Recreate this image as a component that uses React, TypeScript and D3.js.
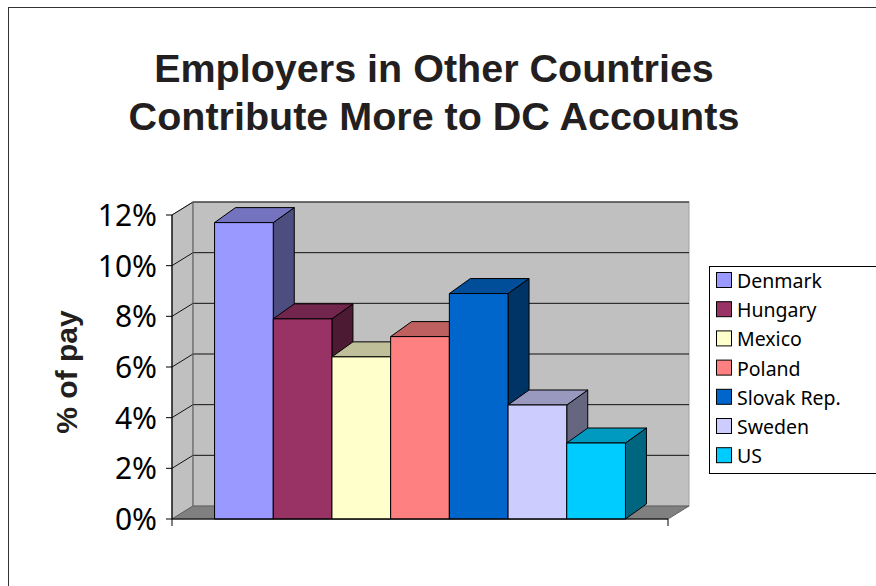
import React from "react";
import * as d3 from "d3";

const categories = ["Denmark", "Hungary", "Mexico", "Poland", "Slovak Rep.", "Sweden", "US"];
const values = [11.7, 7.9, 6.4, 7.2, 8.9, 4.5, 3.0];
const colors = ["#9999FF", "#993366", "#FFFFCC", "#FF8080", "#0066CC", "#CCCCFF", "#00CCFF"];
const yTicks = [0, 2, 4, 6, 8, 10, 12];
const titleLines = ["Employers in Other Countries", "Contribute More to DC Accounts"];
const yLabel = "% of pay";

const W = 876;
const H = 586;

function shade(c: string, k: number) {
  const r = d3.rgb(c);
  return d3.rgb(r.r * k, r.g * k, r.b * k).formatHex();
}

export default function App() {
  const x0 = 172, x1 = 668, yBase = 519, yTop = 215;
  const wdx = 21, wdy = 13; // wall depth
  const bdx = 21, bdy = 15; // bar depth
  const y = d3.scaleLinear().domain([0, 12]).range([yBase, yTop]);
  const x = d3.scaleBand<string>().domain(categories).range([x0, x1]).paddingInner(0).paddingOuter(0.725);
  const bw = x.bandwidth();

  const pts = (a: number[][]) => a.map((p) => p.join(",")).join(" ");

  return (
    <svg width={W} height={H} style={{ position: "absolute", left: 0, top: 0, background: "#fff" }}>
      <rect x={8.5} y={7.5} width={900} height={700} fill="#fff" stroke="#333" strokeWidth={1} />
      {/* Title */}
      {titleLines.map((t, i) => (
        <text key={i} x={434} y={82 + i * 48} textAnchor="middle" fontFamily="Liberation Sans, Arial, sans-serif" fontWeight="bold" fontSize={39.5} fill="#231F20">
          {t}
        </text>
      ))}
      {/* Side wall */}
      <polygon points={pts([[x0, y(12)], [x0 + wdx, y(12) - wdy], [x0 + wdx, yBase - wdy], [x0, yBase]])} fill="#C0C0C0" stroke="#808080" strokeWidth={1} />
      {/* Back wall */}
      <rect x={x0 + wdx} y={y(12) - wdy} width={x1 - x0} height={yBase - y(12)} fill="#C0C0C0" stroke="#A0A0A0" strokeWidth={1} />
      {/* Gridlines */}
      {yTicks.filter((v) => v > 0).map((v) => (
        <g key={v}>
          <line x1={x0 + wdx} x2={x1 + wdx} y1={y(v) - wdy} y2={y(v) - wdy} stroke="#111" strokeWidth={1} />
          <line x1={x0} x2={x0 + wdx} y1={y(v)} y2={y(v) - wdy} stroke="#111" strokeWidth={1} />
        </g>
      ))}
      <line x1={x0 + wdx} x2={x0 + wdx} y1={y(12) - wdy} y2={yBase - wdy} stroke="#606060" strokeWidth={1} />
      {/* Floor */}
      <polygon points={pts([[x0, yBase], [x1, yBase], [x1 + wdx, yBase - wdy], [x0 + wdx, yBase - wdy]])} fill="#808080" stroke="#606060" strokeWidth={1} />
      {/* Bars */}
      {categories.map((c, i) => {
        const bx = x(c)!;
        const top = y(values[i]);
        const col = colors[i];
        return (
          <g key={c} stroke="#000" strokeWidth={1} strokeLinejoin="round">
            <polygon points={pts([[bx + bw, yBase], [bx + bw, top], [bx + bw + bdx, top - bdy], [bx + bw + bdx, yBase - bdy]])} fill={shade(col, 0.5)} />
            <polygon points={pts([[bx, top], [bx + bdx, top - bdy], [bx + bw + bdx, top - bdy], [bx + bw, top]])} fill={shade(col, 0.75)} />
            <rect x={bx} y={top} width={bw} height={yBase - top} fill={col} />
          </g>
        );
      })}
      {/* Axes */}
      <line x1={x0} x2={x0} y1={y(12)} y2={yBase} stroke="#000" strokeWidth={1.2} />
      <line x1={x0} x2={x1} y1={yBase} y2={yBase} stroke="#000" strokeWidth={1.2} />
      <line x1={x0} x2={x0} y1={yBase} y2={yBase + 7} stroke="#000" strokeWidth={1} />
      <line x1={x1} x2={x1} y1={yBase} y2={yBase + 7} stroke="#000" strokeWidth={1} />
      {yTicks.map((v) => (
        <g key={v}>
          <line x1={x0 - 6} x2={x0} y1={y(v)} y2={y(v)} stroke="#000" strokeWidth={1} />
          <text x={157} y={y(v) + 11} textAnchor="end" fontFamily="Noto Sans, sans-serif" fontSize={30} fill="#000">
            {v}%
          </text>
        </g>
      ))}
      <text transform={`translate(77,372) rotate(-90)`} textAnchor="middle" fontFamily="Liberation Sans, Arial, sans-serif" fontWeight="bold" fontSize={30} fill="#231F20">
        {yLabel}
      </text>
      {/* Legend */}
      <rect x={709.5} y={266.5} width={200} height={207} fill="#fff" stroke="#000" strokeWidth={1} />
      {categories.map((c, i) => (
        <g key={c}>
          <rect x={716.5} y={272.5 + i * 29.2} width={15} height={15} fill={colors[i]} stroke="#000" strokeWidth={1} />
          <text x={737} y={288 + i * 29.2} fontFamily="Noto Sans, sans-serif" fontSize={19.5} fill="#000">
            {c}
          </text>
        </g>
      ))}
    </svg>
  );
}
